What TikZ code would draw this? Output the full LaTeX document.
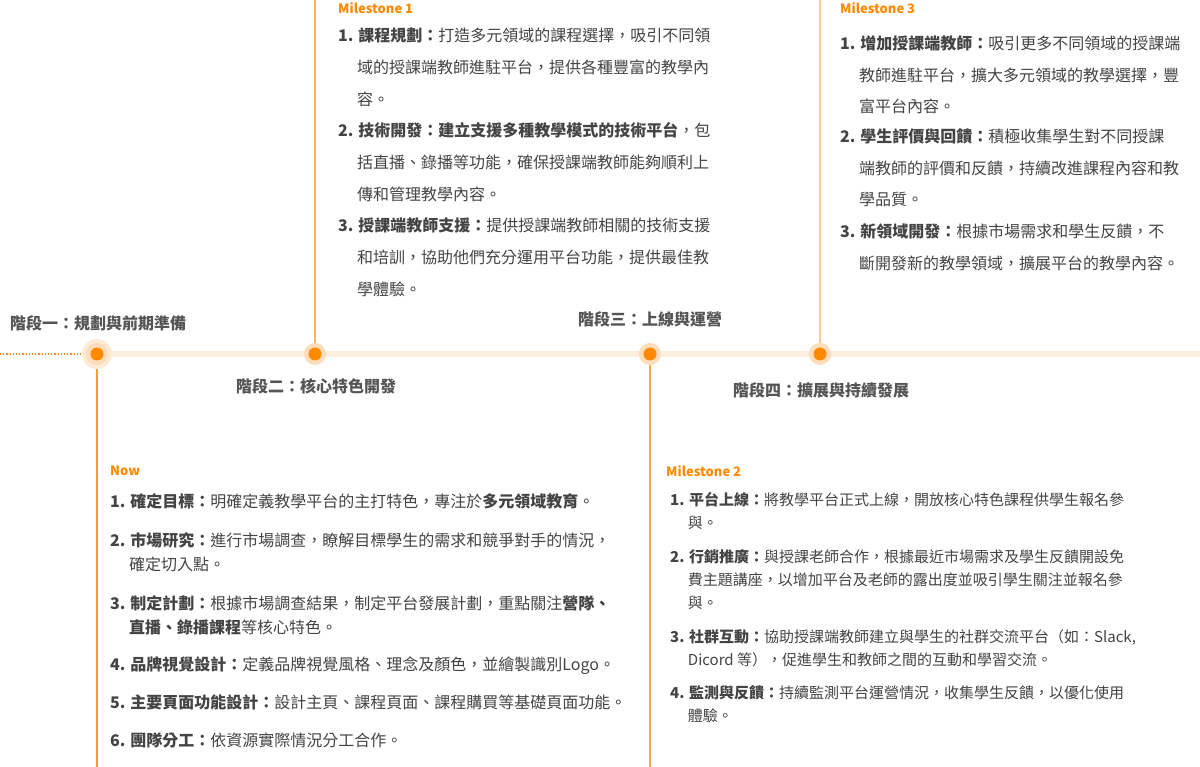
\documentclass[tikz,border=0pt]{standalone}
\usepackage{fontspec}
\setmainfont{Noto Sans CJK TC}
\usepackage{tikz}
\definecolor{morange}{HTML}{FF8A00}
\definecolor{mpeach}{HTML}{FDEEDF}
\definecolor{mhalo}{HTML}{FDDDBB}
\definecolor{mstem}{HTML}{FFB060}
\definecolor{mstemlight}{HTML}{FFCC99}
\definecolor{mtext}{HTML}{444444}
\definecolor{mstage}{HTML}{555555}
\newcommand{\ind}{\hphantom{\textbf{1.}\ }}
\newcommand{\lines}[1]{\begin{tabular}[t]{@{}l@{}}#1\end{tabular}}
\tikzset{dot/.style = {circle, fill=morange, minimum size=13pt, inner sep=0pt,
                       preaction={draw=mhalo, line width=9pt}},
         stage/.style = {font=\fontsize{16}{18}\selectfont\bfseries, text=mstage,
                         inner sep=0pt, anchor=west},
         mlabel/.style = {font=\fontsize{13}{16}\selectfont\bfseries, text=morange,
                          inner sep=0pt, anchor=west},
         entry/.style = {text=mtext, inner sep=0pt, anchor=base west},
         stem/.style = {line width=1.3pt}}

\begin{document}
\begin{tikzpicture}[x=1pt, y=-1pt]
      \fill [white] (0, 0) rectangle (1200, 767);
      \useasboundingbox (0, 0) rectangle (1200, 767);

      % timeline
      \coordinate (t0) at (0, 354);
      \coordinate (t1) at (86, 354);
      \coordinate (t2) at (1200, 354);
      \draw [morange, dotted, line width=1.2pt] (t0) -- (t1);
      \draw [mpeach, line width=6pt] (t1) -- (t2);

      \coordinate (p1) at (97, 354);
      \coordinate (p2) at (315, 354);
      \coordinate (p3) at (650, 354);
      \coordinate (p4) at (820, 354);
      \coordinate (e1) at (97, 767);
      \coordinate (e2) at (315, 0);
      \coordinate (e3) at (650, 767);
      \coordinate (e4) at (820, 0);
      \draw [stem, morange!85] (p1) -- (e1);
      \draw [stem, mstem] (p2) -- (e2);
      \draw [stem, morange!75] (p3) -- (e3);
      \draw [stem, mstemlight] (p4) -- (e4);

      \fill [mhalo!60] (p1) circle (15);
      \node [dot] (d1) at (p1) {};
      \node [dot] (d2) at (p2) {};
      \node [dot] (d3) at (p3) {};
      \node [dot] (d4) at (p4) {};

      \node [stage] (s1) at (10, 323) {階段一：規劃與前期準備};
      \node [stage] (s2) at (236, 386) {階段二：核心特色開發};
      \node [stage] (s3) at (578, 319) {階段三：上線與運營};
      \node [stage] (s4) at (733, 390) {階段四：擴展與持續發展};

      % Milestone 1
      \node [mlabel] (m1) at (338, 8) {Milestone 1};
      \begin{scope}[every node/.append style={entry, font=\fontsize{16}{31.7}\selectfont}]
        \node (m1a) at (338, 42) {\lines{\textbf{1. 課程規劃：}打造多元領域的課程選擇，吸引不同領\\
          \ind 域的授課端教師進駐平台，提供各種豐富的教學內\\ \ind 容。}};
        \node (m1b) at (338, 137) {\lines{\textbf{2. 技術開發：建立支援多種教學模式的技術平台}，包\\
          \ind 括直播、錄播等功能，確保授課端教師能夠順利上\\ \ind 傳和管理教學內容。}};
        \node (m1c) at (338, 232) {\lines{\textbf{3. 授課端教師支援：}提供授課端教師相關的技術支援\\
          \ind 和培訓，協助他們充分運用平台功能，提供最佳教\\ \ind 學體驗。}};
      \end{scope}

      % Milestone 3
      \node [mlabel] (m3) at (840, 8) {Milestone 3};
      \begin{scope}[every node/.append style={entry, font=\fontsize{16}{31.3}\selectfont}]
        \node (m3a) at (840, 50) {\lines{\textbf{1. 增加授課端教師：}吸引更多不同領域的授課端\\
          \ind 教師進駐平台，擴大多元領域的教學選擇，豐\\ \ind 富平台內容。}};
        \node (m3b) at (840, 143) {\lines{\textbf{2. 學生評價與回饋：}積極收集學生對不同授課\\
          \ind 端教師的評價和反饋，持續改進課程內容和教\\ \ind 學品質。}};
        \node (m3c) at (840, 238) {\lines{\textbf{3. 新領域開發：}根據市場需求和學生反饋，不\\
          \ind 斷開發新的教學領域，擴展平台的教學內容。}};
      \end{scope}

      % Now
      \node [mlabel] (m0) at (110, 471) {Now};
      \begin{scope}[every node/.append style={entry, font=\fontsize{16}{24}\selectfont}]
        \node (m0a) at (110, 507) {\textbf{1. 確定目標：}明確定義教學平台的主打特色，專注於\textbf{多元領域教育}。};
        \node (m0b) at (110, 546) {\lines{\textbf{2. 市場研究：}進行市場調查，瞭解目標學生的需求和競爭對手的情況，\\
          \ind 確定切入點。}};
        \node (m0c) at (110, 609) {\lines{\textbf{3. 制定計劃：}根據市場調查結果，制定平台發展計劃，重點關注\textbf{營隊、}\\
          \ind \textbf{直播、錄播課程}等核心特色。}};
        \node (m0d) at (110, 670) {\textbf{4. 品牌視覺設計：}定義品牌視覺風格、理念及顏色，並繪製識別Logo。};
        \node (m0e) at (110, 708) {\textbf{5. 主要頁面功能設計：}設計主頁、課程頁面、課程購買等基礎頁面功能。};
        \node (m0f) at (110, 746) {\textbf{6. 團隊分工：}依資源實際情況分工合作。};
      \end{scope}

      % Milestone 2
      \node [mlabel] (m2) at (666, 471) {Milestone 2};
      \begin{scope}[every node/.append style={entry, font=\fontsize{15}{23}\selectfont}]
        \node (m2a) at (670, 505) {\lines{\textbf{1. 平台上線：}將教學平台正式上線，開放核心特色課程供學生報名參\\
          \ind 與。}};
        \node (m2b) at (670, 562) {\lines{\textbf{2. 行銷推廣：}與授課老師合作，根據最近市場需求及學生反饋開設免\\
          \ind 費主題講座，以增加平台及老師的露出度並吸引學生關注並報名參\\ \ind 與。}};
        \node (m2c) at (670, 642) {\lines{\textbf{3. 社群互動：}協助授課端教師建立與學生的社群交流平台（如：Slack,\\
          \ind Dicord 等），促進學生和教師之間的互動和學習交流。}};
        \node (m2d) at (670, 698) {\lines{\textbf{4. 監測與反饋：}持續監測平台運營情況，收集學生反饋，以優化使用\\
          \ind 體驗。}};
      \end{scope}
    \end{tikzpicture}
\end{document}
